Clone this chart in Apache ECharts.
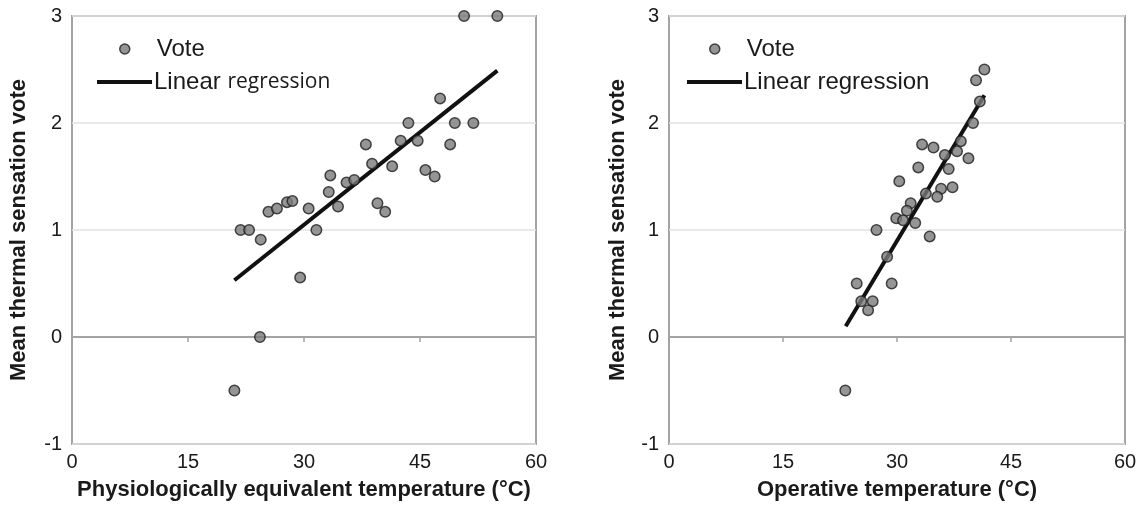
<!DOCTYPE html>
<html><head><meta charset="utf-8">
<script src="https://cdn.jsdelivr.net/npm/echarts@6/dist/echarts.min.js"></script>
<style>html,body{margin:0;padding:0;background:#fff}#c{width:1147px;height:509px}</style>
</head><body><div id="c"></div>
<script>
// Left panel: PET vs mean thermal sensation vote
const petX = [50.7, 55.0, 47.6, 43.5, 49.5, 51.9, 38.0, 42.5, 44.7, 48.9, 38.8, 41.4, 45.7, 46.9, 33.4, 35.5, 36.5, 33.2, 21.8, 22.9, 24.4, 25.4, 26.5, 27.8, 28.5, 30.6, 31.6, 34.4, 29.5, 39.5, 40.5, 24.3, 21.0];
const petVote = [3.0, 3.0, 2.23, 2.0, 2.0, 2.0, 1.80, 1.835, 1.835, 1.80, 1.62, 1.595, 1.56, 1.50, 1.51, 1.445, 1.467, 1.355, 1.0, 1.0, 0.91, 1.17, 1.20, 1.26, 1.27, 1.20, 1.0, 1.22, 0.555, 1.25, 1.17, 0.0, -0.5];
const petFitX = [21.0, 55.0];
const petFitY = [0.53, 2.49];
// Right panel: operative temperature vs mean thermal sensation vote
const topX = [41.5, 40.4, 40.9, 40.0, 38.4, 37.9, 39.4, 33.3, 34.8, 36.3, 36.8, 32.8, 30.3, 35.8, 37.3, 35.3, 33.8, 31.8, 31.3, 29.9, 30.8, 32.4, 27.3, 34.3, 28.7, 24.7, 29.3, 25.3, 26.8, 26.2, 23.2];
const topVote = [2.50, 2.40, 2.20, 2.00, 1.83, 1.735, 1.67, 1.80, 1.77, 1.70, 1.57, 1.585, 1.455, 1.386, 1.40, 1.31, 1.34, 1.25, 1.18, 1.11, 1.09, 1.065, 1.0, 0.94, 0.75, 0.50, 0.50, 0.334, 0.334, 0.25, -0.50];
const topFitX = [23.25, 41.5];
const topFitY = [0.10, 2.26];
// Axes
const xTickStep = 15, xMin = 0, xMax = 60;
const yTickStep = 1, yMin = -1, yMax = 3;
const xTitles = ['Physiologically equivalent temperature (°C)', 'Operative temperature (°C)'];
const yTitle = 'Mean thermal sensation vote';
const legendNames = ['Vote', 'Linear regression'];

const zip = (a, b) => a.map((v, i) => [v, b[i]]);
const FONT = "'Liberation Sans', Arial, sans-serif";
const GRAY = '#a3a3a3';

function xAxes(gi) {
  return [{
    gridIndex: gi, type: 'value', min: xMin, max: xMax, interval: xTickStep,
    axisLine: { show: false, onZero: false }, axisTick: { show: false }, splitLine: { show: false },
    axisLabel: { fontSize: 20, color: '#1a1a1a', fontFamily: FONT, margin: 8 },
    name: xTitles[gi], nameLocation: 'middle', nameGap: 35,
    nameTextStyle: { fontSize: 22, fontWeight: 'bold', color: '#1a1a1a', fontFamily: FONT }
  }, {
    gridIndex: gi, type: 'value', min: xMin, max: xMax, interval: xTickStep, position: 'bottom',
    axisLine: { show: true, onZero: true, lineStyle: { color: GRAY, width: 2 } },
    axisTick: { show: true, length: 5, lineStyle: { color: GRAY, width: 1.5 } },
    axisLabel: { show: false }, splitLine: { show: false }
  }];
}
function yAxis(gi, gap) {
  return {
    gridIndex: gi, type: 'value', min: yMin, max: yMax, interval: yTickStep,
    axisLine: { show: false, onZero: false }, axisTick: { show: false },
    splitLine: { show: true, lineStyle: { color: '#e2e2e2', width: 1.5 } },
    axisLabel: { fontSize: 20, color: '#1a1a1a', fontFamily: FONT, margin: 10 },
    name: yTitle, nameLocation: 'middle', nameGap: gap,
    nameTextStyle: { fontSize: 22, fontWeight: 'bold', color: '#1a1a1a', fontFamily: FONT }
  };
}
const voteStyle = { color: '#7a7a7a', borderColor: '#1e1e1e', borderWidth: 1.5 };
function legends(gi, vx, vy, lx, ly, rich) {
  return [{
    data: [legendNames[0]], left: vx, top: vy, padding: 0, icon: 'circle', itemWidth: 10, itemHeight: 10,
    itemStyle: voteStyle,
    textStyle: { fontSize: 24, color: '#1a1a1a', fontFamily: FONT, padding: [0, 0, 0, 22] },
    selectedMode: false
  }, {
    data: [legendNames[1] + (gi ? '' : ' ')], left: lx, top: ly, padding: 0, icon: 'rect', itemWidth: 55, itemHeight: 4,
    itemStyle: { color: '#111' },
    textStyle: { fontSize: 24, color: '#1a1a1a', fontFamily: FONT, padding: [0, 0, 0, -3], rich: rich },
    formatter: rich ? () => '{a|Linear} {b|regression}' : undefined,
    selectedMode: false
  }];
}

const chart = echarts.init(document.getElementById('c'), null, { renderer: 'canvas' });
chart.setOption({
  backgroundColor: '#fff',
  animation: false,
  grid: [
    { left: 72, right: 1147 - 536, top: 16, bottom: 509 - 444, show: true, borderColor: GRAY, borderWidth: 2, backgroundColor: '#fff' },
    { left: 669, right: 1147 - 1125, top: 16, bottom: 509 - 444, show: true, borderColor: GRAY, borderWidth: 2, backgroundColor: '#fff' }
  ],
  xAxis: [...xAxes(0), ...xAxes(1)],
  yAxis: [yAxis(0, 42), yAxis(1, 40)],
  legend: [
    ...legends(0, 119, 37, 97, 70, {
      a: { fontSize: 24, fontFamily: FONT, color: '#1a1a1a' },
      b: { fontSize: 21, fontFamily: "'Open Sans', sans-serif", color: '#1a1a1a' }
    }),
    ...legends(1, 709, 37, 687, 70, null)
  ],
  series: [
    { name: legendNames[1] + ' ', type: 'line', xAxisIndex: 0, yAxisIndex: 0, data: zip(petFitX, petFitY),
      showSymbol: false, symbol: 'none', lineStyle: { color: '#111', width: 4 }, itemStyle: { color: '#111' }, z: 2 },
    { name: legendNames[0], type: 'scatter', xAxisIndex: 0, yAxisIndex: 0, data: zip(petX, petVote),
      symbolSize: 10.5, itemStyle: voteStyle, clip: false, z: 3 },
    { name: legendNames[1], type: 'line', xAxisIndex: 2, yAxisIndex: 1, data: zip(topFitX, topFitY),
      showSymbol: false, symbol: 'none', lineStyle: { color: '#111', width: 4 }, itemStyle: { color: '#111' }, z: 2 },
    { name: legendNames[0], type: 'scatter', xAxisIndex: 2, yAxisIndex: 1, data: zip(topX, topVote),
      symbolSize: 10.5, itemStyle: voteStyle, clip: false, z: 3 }
  ]
});
</script></body></html>
